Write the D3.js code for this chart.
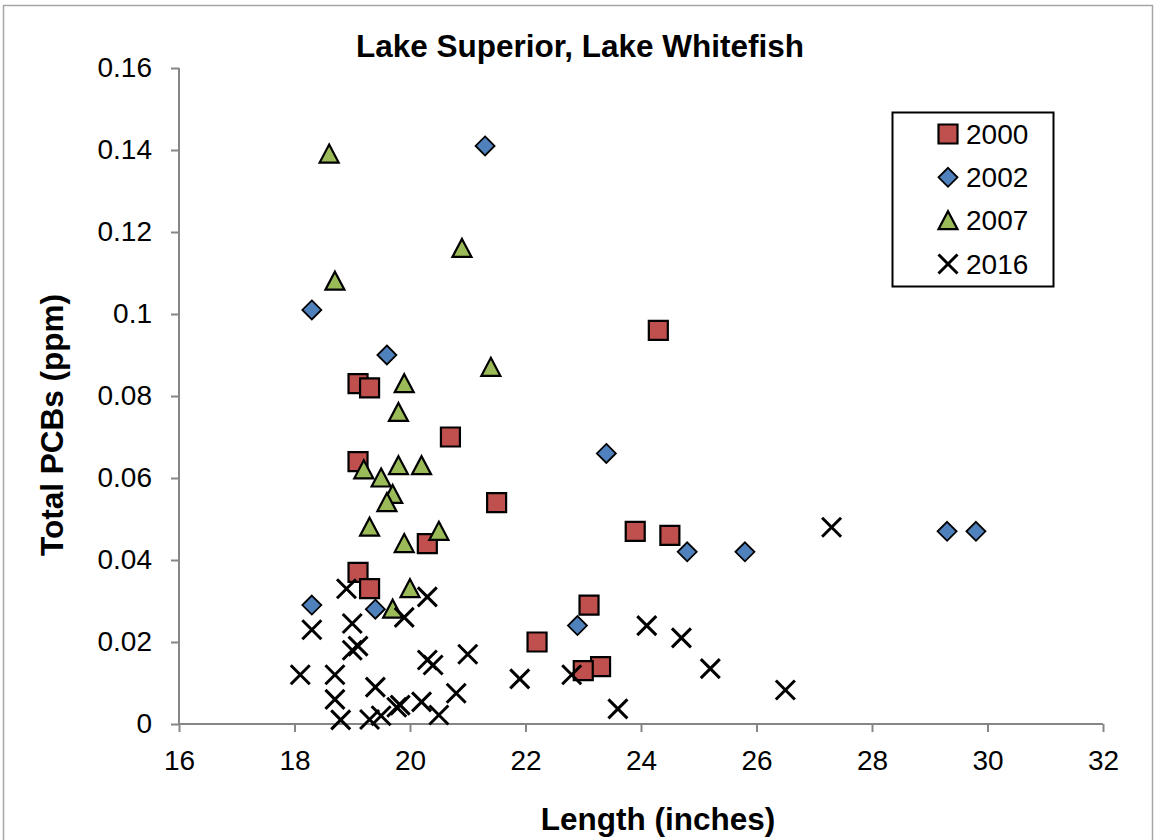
<!DOCTYPE html>
<html>
<head>
<meta charset="utf-8">
<script src="https://cdn.jsdelivr.net/npm/d3@7"></script>
<style>
  html, body { margin: 0; padding: 0; background: #fff; }
  svg { display: block; }
</style>
</head>
<body>
<svg id="chart" width="1156" height="840"></svg>
<script>
// ---------------- data ----------------
const seriesNames = ["2000", "2002", "2007", "2016"];

const len2000 = [24.3, 19.1, 19.3, 20.7, 19.1, 21.5, 23.9, 24.5, 20.3, 19.1, 19.3, 23.1, 22.2, 23.3, 23.0];
const pcb2000 = [0.096, 0.083, 0.082, 0.070, 0.064, 0.054, 0.047, 0.046, 0.044, 0.037, 0.033, 0.029, 0.020, 0.014, 0.013];

const len2002 = [21.3, 18.3, 19.6, 23.4, 24.8, 25.8, 29.3, 29.8, 18.3, 19.4, 22.9];
const pcb2002 = [0.141, 0.101, 0.090, 0.066, 0.042, 0.042, 0.047, 0.047, 0.029, 0.028, 0.024];

const len2007 = [18.6, 20.9, 18.7, 21.4, 19.9, 19.8, 19.2, 19.8, 20.2, 19.5, 19.7, 19.6, 19.3, 20.5, 19.9, 20.0, 19.7];
const pcb2007 = [0.139, 0.116, 0.108, 0.087, 0.083, 0.076, 0.062, 0.063, 0.063, 0.060, 0.056, 0.054, 0.048, 0.047, 0.044, 0.033, 0.028];

const len2016 = [18.9, 20.3, 19.9, 18.3, 19.0, 19.1, 19.0, 20.3, 20.4, 21.0, 18.1, 18.7, 21.9, 19.4, 18.7, 20.8, 19.77, 19.83, 20.2, 18.8, 19.3, 19.5, 20.5, 22.8, 24.1, 24.7, 25.2, 26.5, 23.6, 27.3];
const pcb2016 = [0.033, 0.031, 0.026, 0.023, 0.0245, 0.019, 0.018, 0.0156, 0.0144, 0.017, 0.012, 0.012, 0.011, 0.009, 0.006, 0.0075, 0.0041, 0.0046, 0.0054, 0.001, 0.0011, 0.002, 0.0022, 0.012, 0.024, 0.021, 0.0135, 0.0083, 0.0037, 0.048];

const xTicks = [16, 18, 20, 22, 24, 26, 28, 30, 32];
const yTicks = [0, 0.02, 0.04, 0.06, 0.08, 0.1, 0.12, 0.14, 0.16];
const yTickLabels = ["0", "0.02", "0.04", "0.06", "0.08", "0.1", "0.12", "0.14", "0.16"];

const titleText = "Lake Superior, Lake Whitefish";
const xTitle = "Length (inches)";
const yTitle = "Total PCBs (ppm)";

// ---------------- chart ----------------
const svg = d3.select("#chart");
const FONT = "'Liberation Sans', Arial, sans-serif";

const x = d3.scaleLinear().domain([16, 32]).range([179, 1103]);
const y = d3.scaleLinear().domain([0, 0.16]).range([724, 68]);

// outer border
svg.append("rect")
  .attr("x", 3.5).attr("y", 5.5).attr("width", 1149).attr("height", 900)
  .attr("fill", "none").attr("stroke", "#a6a6a6").attr("stroke-width", 1.5);

const axisColor = "#868686";

// y axis
const yAxis = svg.append("g")
  .attr("transform", `translate(${x.range()[0]},0)`)
  .call(d3.axisLeft(y).tickValues(yTicks).tickSize(8).tickPadding(19)
    .tickFormat((d, i) => yTickLabels[i]));
// x axis
const xAxis = svg.append("g")
  .attr("transform", `translate(0,${y.range()[0]})`)
  .call(d3.axisBottom(x).tickValues(xTicks).tickSize(8).tickPadding(18)
    .tickFormat(d3.format("d")));

[xAxis, yAxis].forEach(g => {
  g.select(".domain").attr("stroke", axisColor).attr("stroke-width", 2);
  g.selectAll(".tick line").attr("stroke", axisColor).attr("stroke-width", 2);
  g.selectAll(".tick text").attr("fill", "#000")
    .style("font-family", FONT).style("font-size", "28px");
});
yAxis.select(".domain").attr("d", `M0,${y.range()[0]}V${y.range()[1]}`);
xAxis.select(".domain").attr("d", `M${x.range()[0]},0H${x.range()[1]}`);

// titles
svg.append("text")
  .attr("x", 580).attr("y", 57)
  .attr("text-anchor", "middle")
  .style("font-family", FONT).style("font-weight", "bold").style("font-size", "31.5px")
  .text(titleText);

svg.append("text")
  .attr("x", 658).attr("y", 830)
  .attr("text-anchor", "middle")
  .style("font-family", FONT).style("font-weight", "bold").style("font-size", "31.5px")
  .text(xTitle);

svg.append("text")
  .attr("transform", "translate(63,425) rotate(-90)")
  .attr("text-anchor", "middle")
  .style("font-family", FONT).style("font-weight", "bold").style("font-size", "31.5px")
  .text(yTitle);

// marker shapes
const S = 9.5;
const shapes = {
  "2000": { d: `M${-S},${-S}H${S}V${S}H${-S}Z`, fill: "#C0504D", stroke: "#000", sw: 2.2 },
  "2002": { d: `M0,${-S}L${S},0L0,${S}L${-S},0Z`, fill: "#4F81BD", stroke: "#000", sw: 1.8 },
  "2007": { d: `M0,${-S}L${S},${S - 1}L${-S},${S - 1}Z`, fill: "#9BBB59", stroke: "#000", sw: 2.2 },
  "2016": { d: `M${-S},${-S}L${S},${S}M${S},${-S}L${-S},${S}`, fill: "none", stroke: "#000", sw: 3 }
};

const seriesData = {
  "2000": len2000.map((v, i) => ({ x: v, y: pcb2000[i] })),
  "2002": len2002.map((v, i) => ({ x: v, y: pcb2002[i] })),
  "2007": len2007.map((v, i) => ({ x: v, y: pcb2007[i] })),
  "2016": len2016.map((v, i) => ({ x: v, y: pcb2016[i] }))
};

seriesNames.forEach(name => {
  const sh = shapes[name];
  svg.append("g").selectAll("path")
    .data(seriesData[name])
    .join("path")
    .attr("transform", d => `translate(${x(d.x)},${y(d.y)})`)
    .attr("d", sh.d)
    .attr("fill", sh.fill)
    .attr("stroke", sh.stroke)
    .attr("stroke-width", sh.sw)
    .attr("stroke-linejoin", "miter");
});

// legend
const legend = svg.append("g");
legend.append("rect")
  .attr("x", 892.5).attr("y", 112.5).attr("width", 161).attr("height", 174)
  .attr("fill", "#fff").attr("stroke", "#000").attr("stroke-width", 2);

const legendY = d3.scalePoint().domain(seriesNames).range([134, 264]);
seriesNames.forEach(name => {
  const sh = shapes[name];
  const g = legend.append("g").attr("transform", `translate(948,${legendY(name)})`);
  g.append("path").attr("d", sh.d).attr("fill", sh.fill)
    .attr("stroke", sh.stroke).attr("stroke-width", sh.sw);
  g.append("text").attr("x", 18).attr("y", 0).attr("dy", "0.35em")
    .style("font-family", FONT).style("font-size", "28px")
    .text(name);
});
</script>
</body>
</html>
